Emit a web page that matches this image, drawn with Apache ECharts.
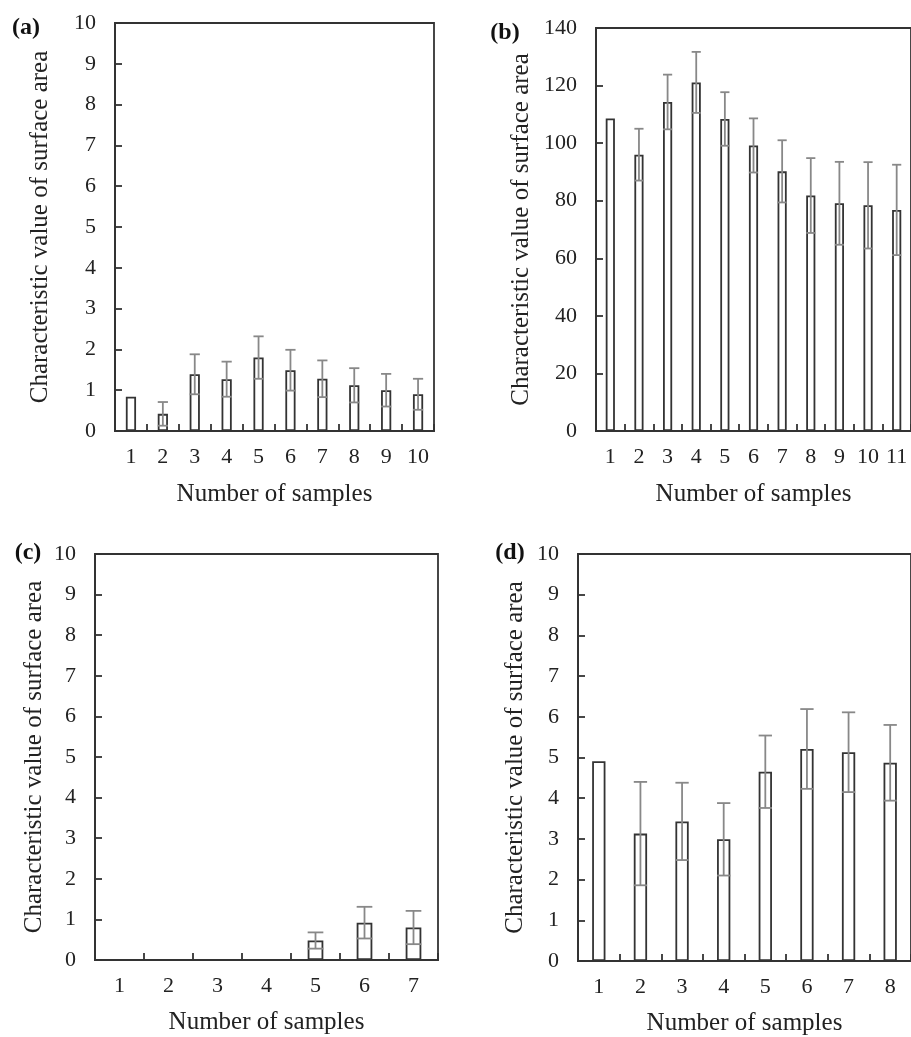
<!DOCTYPE html>
<html><head><meta charset="utf-8">
<script src="https://cdn.jsdelivr.net/npm/echarts@6/dist/echarts.min.js"></script>
<style>html,body{margin:0;padding:0;background:#fff}#c{width:911px;height:1037px}</style>
</head><body><div id="c"></div>
<script>
// ---- data ----
const catsA = ['1','2','3','4','5','6','7','8','9','10'];
const meanA = [0.84, 0.42, 1.39, 1.27, 1.80, 1.49, 1.28, 1.12, 1.00, 0.90];
const errA  = [null, 0.29, 0.49, 0.43, 0.52, 0.50, 0.45, 0.42, 0.40, 0.38];

const catsB = ['1','2','3','4','5','6','7','8','9','10','11'];
const meanB = [108.6, 96.0, 114.3, 121.1, 108.4, 99.2, 90.2, 81.8, 79.1, 78.4, 76.8];
const errB  = [null, 9.0, 9.5, 10.6, 9.3, 9.4, 10.8, 13.0, 14.4, 15.0, 15.7];

const catsC = ['1','2','3','4','5','6','7'];
const meanC = [null, null, null, null, 0.48, 0.92, 0.80];
const errC  = [null, null, null, null, 0.20, 0.39, 0.41];

const catsD = ['1','2','3','4','5','6','7','8'];
const meanD = [4.91, 3.13, 3.43, 2.99, 4.65, 5.21, 5.13, 4.87];
const errD  = [null, 1.27, 0.95, 0.89, 0.89, 0.98, 0.98, 0.93];

const panelLabels = ['(a)', '(b)', '(c)', '(d)'];
const yTitle = 'Characteristic value of surface area';
const xTitle = 'Number of samples';

// ---- styling / layout ----
const FONT = '"Liberation Serif", "DejaVu Serif", serif';
const DARK = '#333';
const ERRC = '#888';
const BAR_RATIO = 0.32;

const panels = [
  {cats: catsA, mean: meanA, err: errA, max: 10, interval: 1,
   grid: {left: 115, top: 23, width: 319, height: 408}, yGap: 62, xGap: 51, lab: [26, 28]},
  {cats: catsB, mean: meanB, err: errB, max: 140, interval: 20,
   grid: {left: 596, top: 28, width: 320, height: 403}, yGap: 62, xGap: 51, lab: [505, 33]},
  {cats: catsC, mean: meanC, err: errC, max: 10, interval: 1,
   grid: {left: 95, top: 554, width: 343, height: 406}, yGap: 48, xGap: 50, lab: [28, 553]},
  {cats: catsD, mean: meanD, err: errD, max: 10, interval: 1,
   grid: {left: 578, top: 554, width: 334, height: 409}, yGap: 50, xGap: 50, lab: [510, 553]}
];

function errRender(params, api) {
  const x = api.value(0), m = api.value(1), e = api.value(2);
  const top = api.coord([x, m + e]);
  const bot = api.coord([x, m - e]);
  const half = api.size([1, 0])[0] * BAR_RATIO / 2;
  const style = {stroke: ERRC, lineWidth: 1.8};
  return {type: 'group', children: [
    {type: 'line', shape: {x1: top[0], y1: top[1], x2: bot[0], y2: bot[1]}, style: style},
    {type: 'line', shape: {x1: top[0] - half, y1: top[1], x2: top[0] + half, y2: top[1]}, style: style},
    {type: 'line', shape: {x1: bot[0] - half, y1: bot[1], x2: bot[0] + half, y2: bot[1]}, style: style}
  ]};
}

const option = {
  animation: false,
  backgroundColor: '#fff',
  grid: [], xAxis: [], yAxis: [], series: [], graphic: []
};

panels.forEach((p, i) => {
  option.grid.push(Object.assign({show: true, borderColor: DARK, borderWidth: 1.8, backgroundColor: 'transparent'}, p.grid));
  option.xAxis.push({
    type: 'category', gridIndex: i, data: p.cats, boundaryGap: true,
    name: xTitle, nameLocation: 'middle', nameGap: p.xGap,
    nameTextStyle: {fontFamily: FONT, fontSize: 25, color: '#222'},
    axisLine: {show: true, lineStyle: {color: DARK, width: 2}},
    axisTick: {show: true, inside: true, length: 7, interval: 0, lineStyle: {color: DARK, width: 1.8}},
    axisLabel: {interval: 0, margin: 15, fontFamily: FONT, fontSize: 22, color: '#222'},
    splitLine: {show: false}
  });
  option.yAxis.push({
    type: 'value', gridIndex: i, min: 0, max: p.max, interval: p.interval,
    name: yTitle, nameLocation: 'middle', nameGap: p.yGap,
    nameTextStyle: {fontFamily: FONT, fontSize: 25, color: '#222'},
    axisLine: {show: true, lineStyle: {color: DARK, width: 2}},
    axisTick: {show: true, inside: true, length: 7, lineStyle: {color: DARK, width: 1.8}},
    axisLabel: {margin: 19, fontFamily: FONT, fontSize: 22, color: '#222'},
    splitLine: {show: false}
  });
  option.series.push({
    type: 'bar', xAxisIndex: i, yAxisIndex: i, data: p.mean,
    barWidth: (BAR_RATIO * 100) + '%',
    itemStyle: {color: '#fff', borderColor: DARK, borderWidth: 1.8}
  });
  const errData = [];
  p.mean.forEach((m, k) => { if (m != null && p.err[k] != null) errData.push([k, m, p.err[k]]); });
  option.series.push({
    type: 'custom', xAxisIndex: i, yAxisIndex: i, data: errData,
    encode: {x: 0, y: 1}, renderItem: errRender, z: 5, silent: true
  });
  option.graphic.push({
    type: 'text', x: p.lab[0], y: p.lab[1],
    style: {text: panelLabels[i], font: 'bold 24px ' + FONT, fill: '#111', textAlign: 'center', textVerticalAlign: 'middle'}
  });
});

const chart = echarts.init(document.getElementById('c'), null, {renderer: 'canvas'});
chart.setOption(option);
</script>
</body></html>
